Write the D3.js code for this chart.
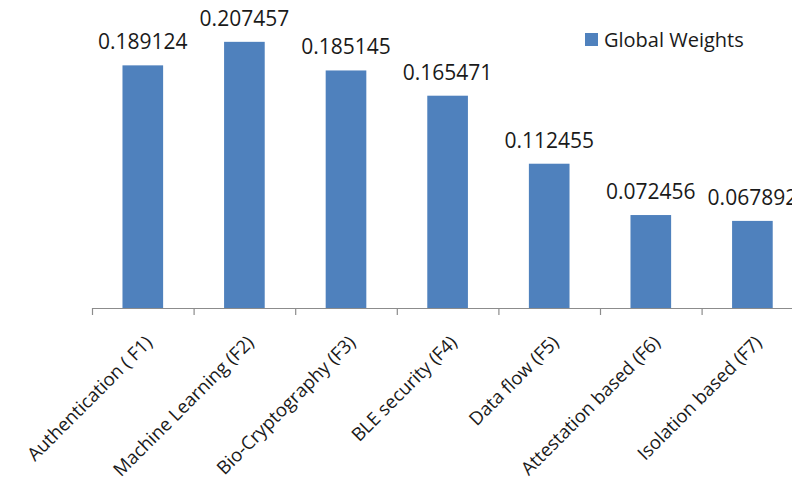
<!DOCTYPE html>
<html>
<head>
<meta charset="utf-8">
<script src="https://cdn.jsdelivr.net/npm/d3@7"></script>
<style>
  html, body { margin: 0; padding: 0; background: #fff; }
  svg { display: block; }
  text { font-family: "Open Sans", "Noto Sans", sans-serif; fill: #1a1a1a; }
</style>
</head>
<body>
<svg id="chart" width="792" height="483"></svg>
<script>
// Factor names and their global weights
const categories = [
  "Authentication ( F1)",
  "Machine Learning (F2)",
  "Bio-Cryptography (F3)",
  "BLE security (F4)",
  "Data flow (F5)",
  "Attestation based (F6)",
  "Isolation based (F7)"
];
const weights = [0.189124, 0.207457, 0.185145, 0.165471, 0.112455, 0.072456, 0.067892];
const valueLabels = ["0.189124", "0.207457", "0.185145", "0.165471", "0.112455", "0.072456", "0.067892"];
const seriesName = "Global Weights";

const barColor = "#4f81bd";
const axisColor = "#8c8c8c";

const svg = d3.select("#chart");

const baseY = 308;
const left = 92;
const band = 101.6;

const x = d3.scaleBand()
  .domain(categories)
  .range([left, left + band * categories.length])
  .paddingInner(0.6)
  .paddingOuter(0.3);

const y = d3.scaleLinear()
  .domain([0, 0.24])
  .range([baseY, baseY - 0.24 * 1283]);

// Bars
svg.append("g")
  .selectAll("rect")
  .data(weights)
  .join("rect")
  .attr("x", (d, i) => x(categories[i]))
  .attr("y", d => y(d))
  .attr("width", x.bandwidth())
  .attr("height", d => y(0) - y(d))
  .attr("fill", barColor);

// Value labels above bars
svg.append("g")
  .selectAll("text")
  .data(weights)
  .join("text")
  .attr("x", (d, i) => x(categories[i]) + x.bandwidth() / 2)
  .attr("y", d => y(d) - 16)
  .attr("text-anchor", "middle")
  .attr("font-size", 21)
  .text((d, i) => valueLabels[i]);

// Category axis with ticks at band boundaries
const axisG = svg.append("g");
const xEnd = left + band * categories.length;
axisG.append("line")
  .attr("x1", left).attr("x2", xEnd)
  .attr("y1", baseY + 0.5).attr("y2", baseY + 0.5)
  .attr("stroke", axisColor).attr("stroke-width", 1.2);
axisG.selectAll("line.tick")
  .data(d3.range(categories.length + 1))
  .join("line")
  .attr("class", "tick")
  .attr("x1", i => left + i * band + 0.5)
  .attr("x2", i => left + i * band + 0.5)
  .attr("y1", baseY)
  .attr("y2", baseY + 7)
  .attr("stroke", axisColor).attr("stroke-width", 1.2);

// Rotated category labels
axisG.selectAll("text")
  .data(categories)
  .join("text")
  .attr("text-anchor", "end")
  .attr("font-size", 18.5)
  .attr("transform", d => `translate(${x(d) + x.bandwidth() / 2 + 6},${baseY + 31}) rotate(-45)`)
  .attr("dy", "0.35em")
  .text(d => d);

// Legend
const legend = svg.append("g").attr("transform", "translate(585,33)");
legend.append("rect").attr("width", 13).attr("height", 13).attr("fill", barColor);
legend.append("text")
  .attr("x", 19).attr("y", 6.5).attr("dy", "0.35em")
  .attr("font-size", 20)
  .text(seriesName);
</script>
</body>
</html>
